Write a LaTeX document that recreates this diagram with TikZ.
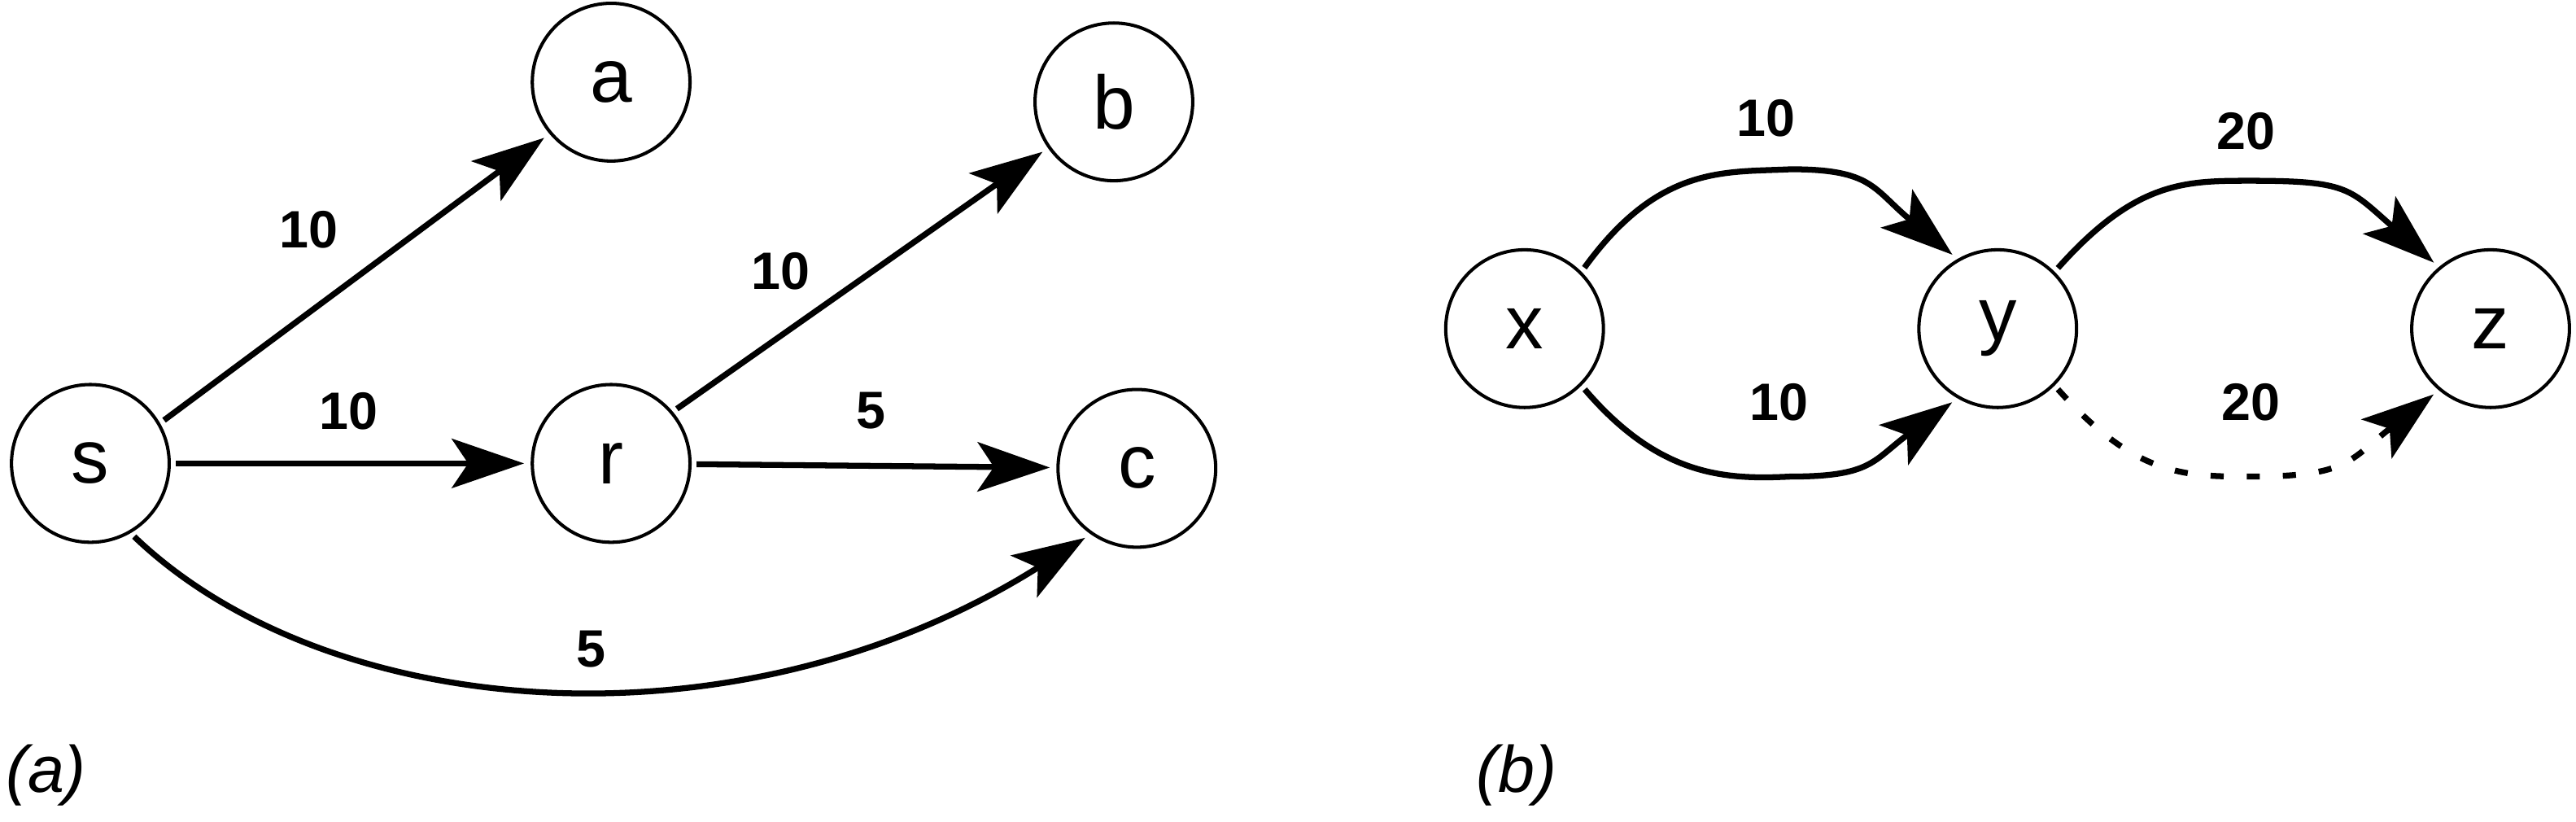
\documentclass[tikz,border=0pt]{standalone}
\usepackage{fontspec}
\setmainfont{Liberation Sans}
\usetikzlibrary{arrows.meta}
\begin{document}
\begin{tikzpicture}[x=1pt,y=-1pt,
  vert/.style={circle,draw,line width=2pt,minimum size=96pt,inner sep=0pt,font=\fontsize{46}{46}\selectfont},
  edge/.style={line width=3.6pt,-{Stealth[length=44pt,width=30pt,inset=10pt]},shorten <=3pt,shorten >=4pt},
  wt/.style={font=\fontsize{32}{32}\selectfont\bfseries},
  figcap/.style={font=\fontsize{40}{40}\selectfont\itshape}]
\useasboundingbox (0,0) rectangle (1568,500);
\node[vert] (s) at (55,282) {s};
\node[vert] (a) at (372,50) {a};
\node[vert] (b) at (678,62) {b};
\node[vert] (r) at (372,282) {r};
\node[vert] (c) at (692,285) {c};
\node[vert] (x) at (928,200) {x};
\node[vert] (y) at (1216,200) {y};
\node[vert] (z) at (1516,200) {z};
\draw[edge] (s.30) -- (a.220);
\draw[edge] (s) -- (r);
\draw[edge] (r.40) -- (b.215);
\draw[edge] (r) -- (c);
\draw[edge] (s.-60) .. controls (200,440) and (450,460) .. (c.235);
\draw[edge] (x.45) .. controls (1010,100) and (1050,105) .. (1090,103) .. controls (1140,103) and (1140,115) .. (y.120);
\draw[edge] (x.-45) .. controls (1010,290) and (1050,292) .. (1090,290) .. controls (1140,290) and (1140,280) .. (y.-120);
\draw[edge] (y.45) .. controls (1300,110) and (1330,110) .. (1370,110) .. controls (1430,110) and (1430,115) .. (z.130);
\draw[edge,dash pattern=on 8pt off 14pt] (y.-45) .. controls (1300,290) and (1330,290) .. (1370,290) .. controls (1430,290) and (1430,280) .. (z.-130);
\node[wt] (l1) at (188,140) {10};
\node[wt] (l2) at (475,165) {10};
\node[wt] (l3) at (212,250) {10};
\node[wt] (l4) at (530,250) {5};
\node[wt] (l5) at (360,395) {5};
\node[wt] (l6) at (1075,72) {10};
\node[wt] (l7) at (1083,245) {10};
\node[wt] (l8) at (1367,80) {20};
\node[wt] (l9) at (1370,245) {20};
\node[figcap] (ca) at (28,472) {(a)};
\node[figcap] (cb) at (923,472) {(b)};
\end{tikzpicture}
\end{document}
